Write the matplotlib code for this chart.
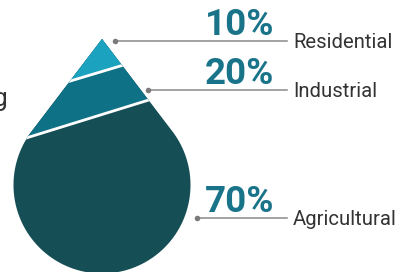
import numpy as np
import matplotlib
matplotlib.use("Agg")
import matplotlib.pyplot as plt
from matplotlib.patches import Polygon

# ---- data ----
categories = ["Residential", "Industrial", "Agricultural"]
shares = [10, 20, 70]
pct_labels = [f"{v}%" for v in shares]

# ---- layout (pixel coordinates, y down) ----
W, H = 401, 272
tip = np.array([102.0, 39.0])
center = np.array([102.0, 185.0])
radius = 88.5
# cut lines between segments: (y at drop axis, slope dy/dx)
cuts = [(71.5, -0.30), (114.5, -0.31)]
colors = ["#1ba2be", "#0f7186", "#164e56"]
pct_color = "#1a7489"
text_color = "#333333"
leader_color = "#8a8a8a"
# leader anchors (dot x, line y)
anchors = [(115, 41), (148, 90), (197, 218)]
line_end = 287

fig = plt.figure(figsize=(W / 100, H / 100), dpi=100)
ax = fig.add_axes([0, 0, 1, 1])
ax.set_xlim(0, W)
ax.set_ylim(H, 0)
ax.axis("off")

# build drop outline (cone from tip tangent to circle)
d = np.linalg.norm(center - tip)
theta = np.arcsin(radius / d)
phi = np.pi / 2 - theta
a = np.linspace(-np.pi / 2 - phi, -np.pi / 2 - phi - (2 * np.pi - 2 * phi), 400)
arc_x = center[0] + radius * np.cos(a)
arc_y = center[1] + radius * np.sin(a)
pts = np.vstack([[tip], np.column_stack([arc_x, arc_y])])
drop = Polygon(pts, closed=True, facecolor=colors[2], edgecolor="none", zorder=1)
ax.add_patch(drop)

big = 1000
for (yc, s), col in zip(cuts[::-1], colors[1::-1]):
    y0 = yc + s * (0 - tip[0])
    y1 = yc + s * (W - tip[0])
    reg = Polygon([[0, y0], [W, y1], [W, -big], [0, -big]], closed=True,
                  facecolor=col, edgecolor="none", zorder=2)
    ax.add_patch(reg)
    reg.set_clip_path(drop)
for yc, s in cuts:
    xs = np.array([0, W])
    ln, = ax.plot(xs, yc + s * (xs - tip[0]), color="white", lw=2.0, zorder=3,
                  solid_capstyle="butt")
    ln.set_clip_path(drop)

# labels
for (dx, ly), pct, cat in zip(anchors, pct_labels, categories):
    ax.plot([dx, line_end], [ly, ly], color=leader_color, lw=1.1, zorder=4)
    ax.plot([dx], [ly], "o", color="#7a7a7a", ms=4, mec="none", zorder=5)
    ax.text(274, ly - 6, pct, ha="right", va="baseline", fontsize=26.5,
            fontweight="bold", family=["Roboto", "DejaVu Sans"], color=pct_color)
    ax.text(293, ly + 7, cat, ha="left", va="baseline", fontsize=14.6,
            fontweight="normal", family=["Roboto", "DejaVu Sans"], color=text_color)

ax.text(8, 106, "g", ha="right", va="baseline", fontsize=19,
        fontweight="normal", family=["Roboto", "DejaVu Sans"], color=text_color)

fig.savefig("out.png", dpi=100)
